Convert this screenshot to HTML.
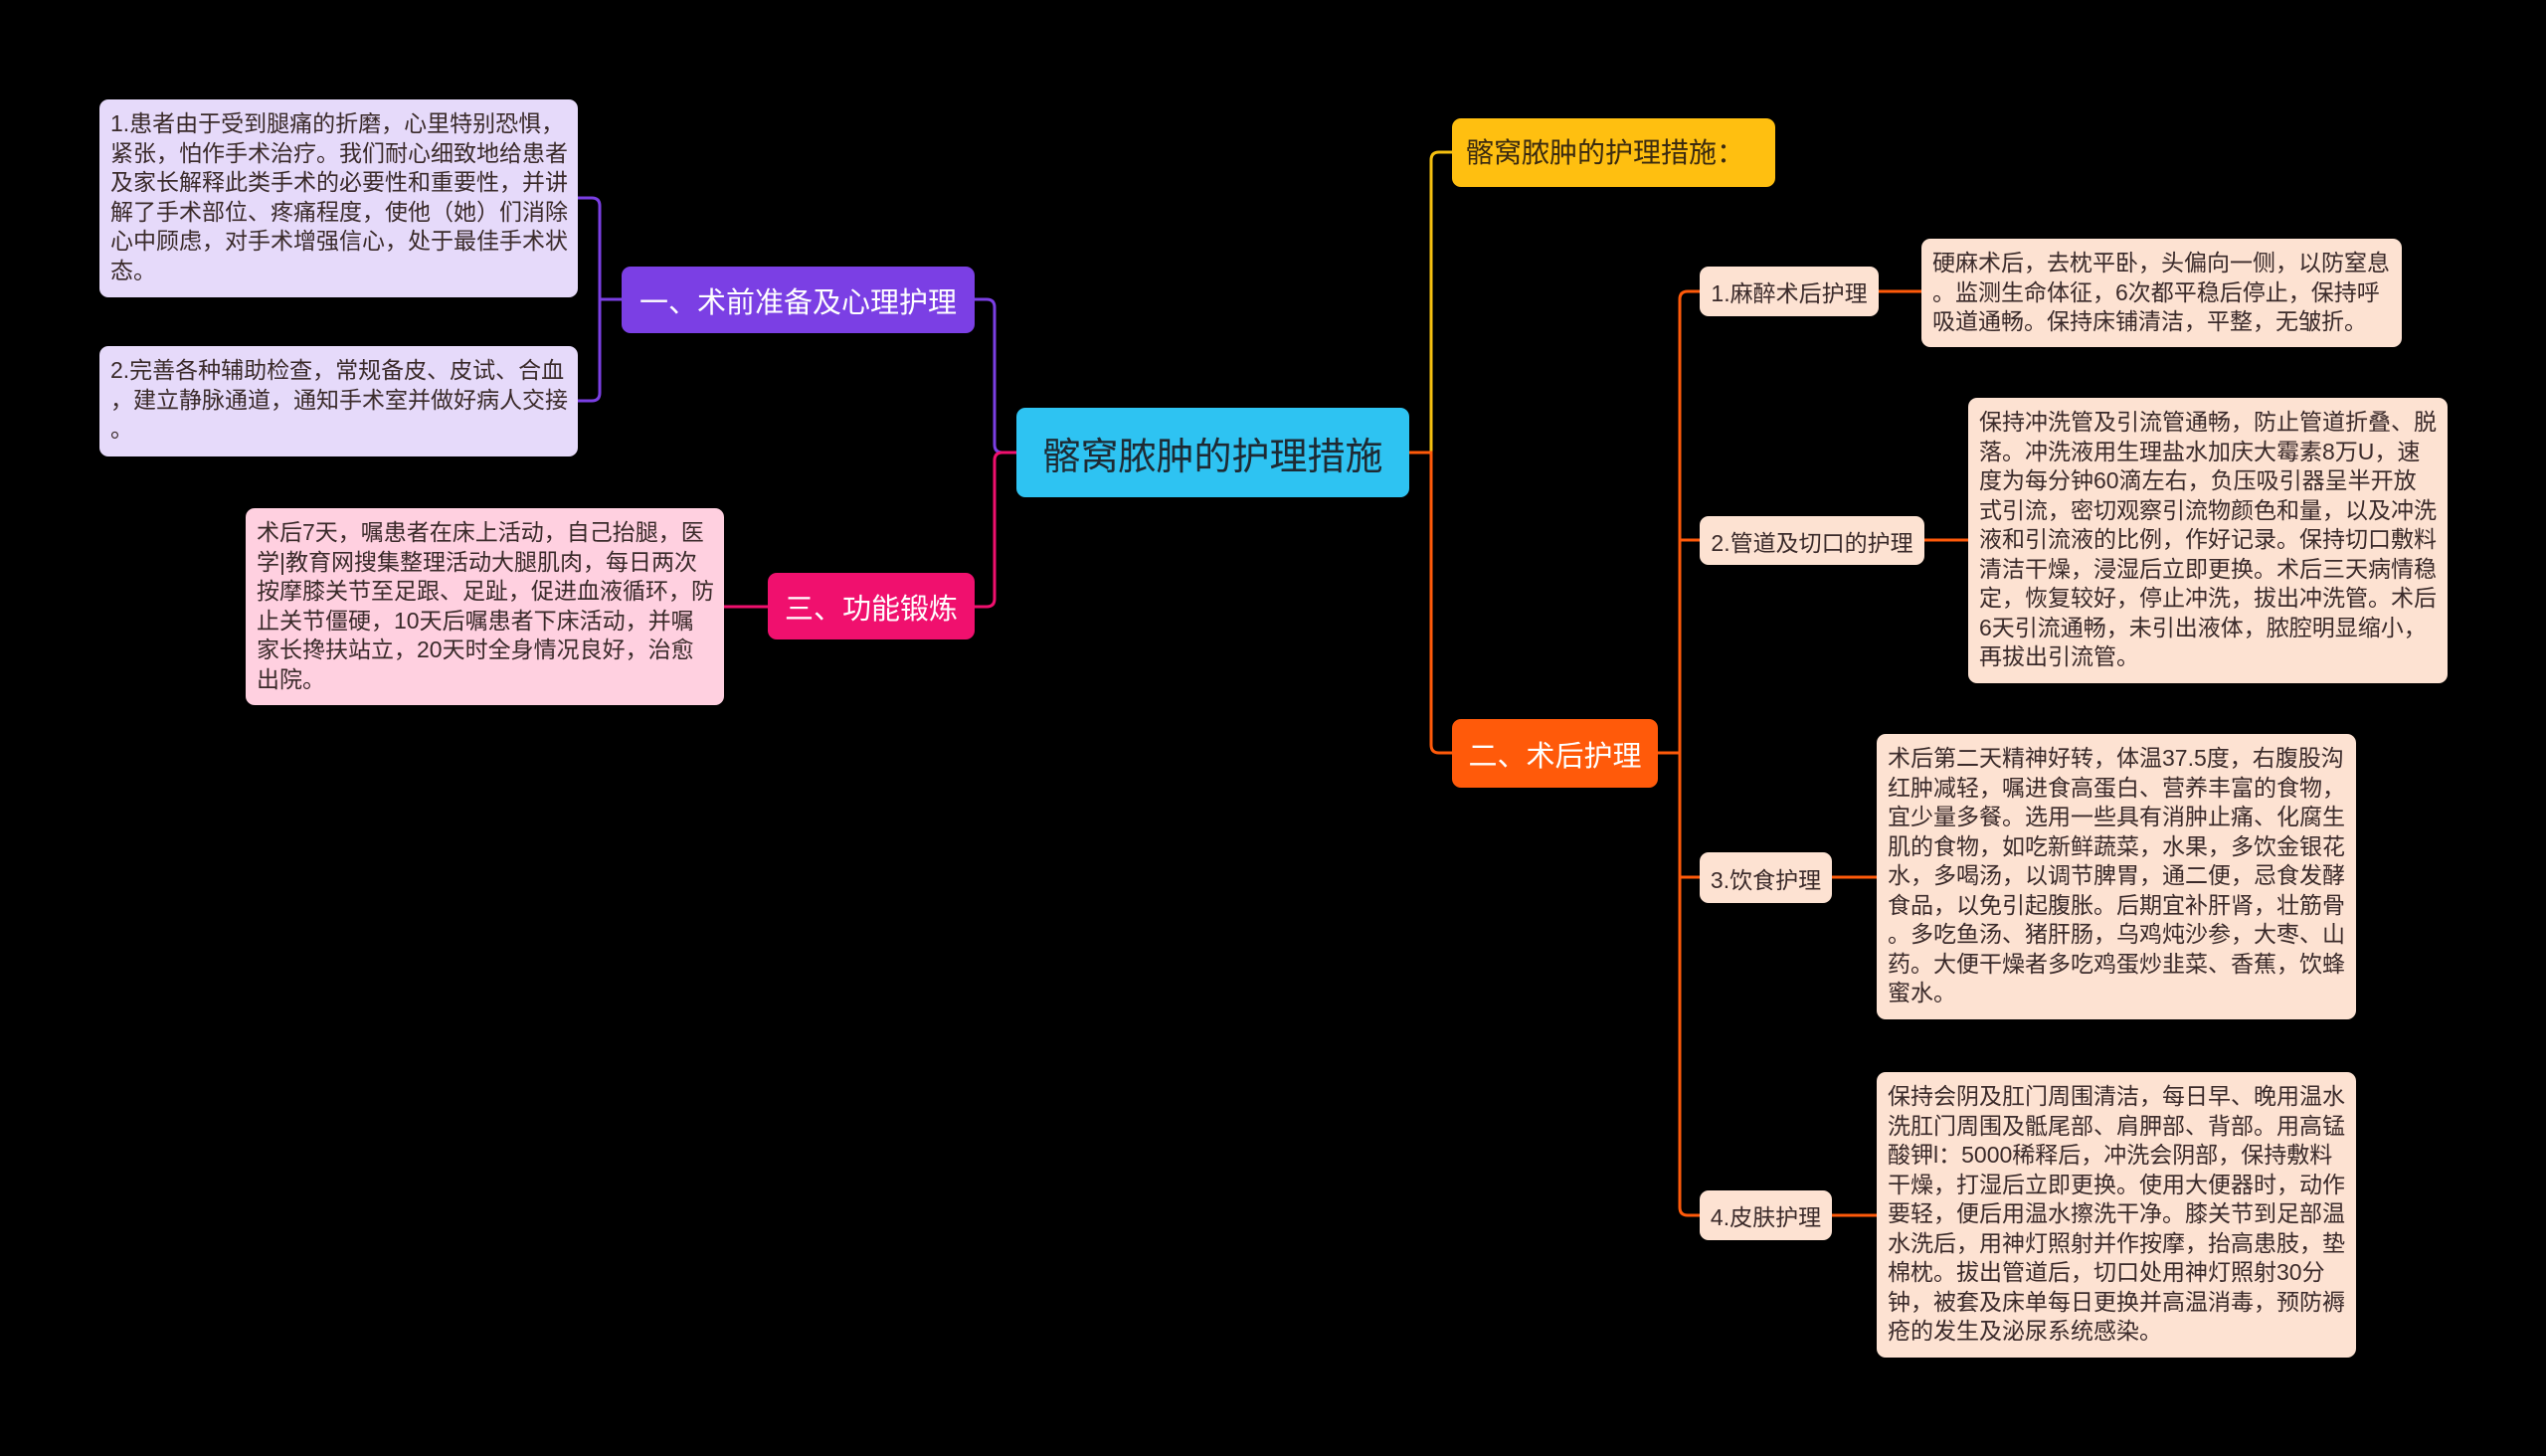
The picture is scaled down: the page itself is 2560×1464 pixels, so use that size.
<!DOCTYPE html>
<html><head><meta charset="utf-8"><style>
html,body{margin:0;padding:0;background:#000;}
body{width:2560px;height:1464px;position:relative;overflow:hidden;font-family:"Liberation Sans","Noto Sans CJK SC",sans-serif;}
.n{position:absolute;box-sizing:border-box;border-radius:9px;white-space:nowrap;}
.t{font-size:23px;line-height:29.5px;color:#3a2a2a;padding:10px 11px;}
.c{display:flex;align-items:center;justify-content:center;}
svg{position:absolute;left:0;top:0;}
</style></head><body>
<svg width="2560" height="1464" fill="none" stroke-width="3">
<!-- left -->
<path d="M1022 455 H1008 Q1000 455 1000 447 V309 Q1000 301 992 301 H980" stroke="#7b3fe4"/>
<path d="M1022 455 H1008 Q1000 455 1000 463 V602 Q1000 610 992 610 H980" stroke="#f0106e"/>
<path d="M625 301 H603" stroke="#7b3fe4"/>
<path d="M581 199 H595 Q603 199 603 207 V395 Q603 403 595 403 H581" stroke="#7b3fe4"/>
<path d="M772 610 H728" stroke="#f0106e"/>
<!-- right -->
<path d="M1417 455 H1439 V161 Q1439 153 1447 153 H1460" stroke="#f5c010"/>
<path d="M1417 455 H1439 V749 Q1439 757 1447 757 H1460" stroke="#ff5a0a"/>
<path d="M1667 757 H1689" stroke="#ff5a0a"/>
<path d="M1709 293 H1697 Q1689 293 1689 301 V1214 Q1689 1222 1697 1222 H1709" stroke="#ff5a0a"/>
<path d="M1689 543 H1709 M1689 882 H1709" stroke="#ff5a0a"/>
<path d="M1889 293 H1932 M1935 543 H1979 M1842 882 H1887 M1842 1222 H1887" stroke="#ff5a0a"/>
</svg>

<div class="n t" style="left:100px;top:100px;width:481px;height:199px;background:#e6dafa;">1.患者由于受到腿痛的折磨，心里特别恐惧，<br>紧张，怕作手术治疗。我们耐心细致地给患者<br>及家长解释此类手术的必要性和重要性，并讲<br>解了手术部位、疼痛程度，使他（她）们消除<br>心中顾虑，对手术增强信心，处于最佳手术状<br>态。</div>
<div class="n t" style="left:100px;top:348px;width:481px;height:111px;background:#e6dafa;">2.完善各种辅助检查，常规备皮、皮试、合血<br>，建立静脉通道，通知手术室并做好病人交接<br>。</div>
<div class="n c" style="left:625px;top:268px;width:355px;height:67px;background:#7b3fe4;color:#fff;font-size:29px;">一、术前准备及心理护理</div>
<div class="n c" style="left:772px;top:576px;width:208px;height:67px;background:#f0106e;color:#fff;font-size:29px;">三、功能锻炼</div>
<div class="n t" style="left:247px;top:511px;width:481px;height:198px;background:#ffd0e0;">术后7天，嘱患者在床上活动，自己抬腿，医<br>学|教育网搜集整理活动大腿肌肉，每日两次<br>按摩膝关节至足跟、足趾，促进血液循环，防<br>止关节僵硬，10天后嘱患者下床活动，并嘱<br>家长搀扶站立，20天时全身情况良好，治愈<br>出院。</div>

<div class="n c" style="left:1022px;top:410px;width:395px;height:90px;background:#2ec3f2;color:#1e2a33;font-size:38px;">髂窝脓肿的护理措施</div>
<div class="n" style="left:1460px;top:119px;width:325px;height:69px;background:#ffbf10;color:#3a2a10;font-size:28px;line-height:69px;padding-left:14px;">髂窝脓肿的护理措施：</div>
<div class="n c" style="left:1460px;top:723px;width:207px;height:69px;background:#ff5a0a;color:#fff;font-size:29px;">二、术后护理</div>

<div class="n c" style="left:1709px;top:268px;width:180px;height:50px;background:#fde2d2;color:#3a2a2a;font-size:23px;">1.麻醉术后护理</div>
<div class="n c" style="left:1709px;top:519px;width:226px;height:49px;background:#fde2d2;color:#3a2a2a;font-size:23px;">2.管道及切口的护理</div>
<div class="n c" style="left:1709px;top:857px;width:133px;height:51px;background:#fde2d2;color:#3a2a2a;font-size:23px;">3.饮食护理</div>
<div class="n c" style="left:1709px;top:1197px;width:133px;height:50px;background:#fde2d2;color:#3a2a2a;font-size:23px;">4.皮肤护理</div>

<div class="n t" style="left:1932px;top:240px;width:483px;height:109px;background:#fde2d2;">硬麻术后，去枕平卧，头偏向一侧，以防窒息<br>。监测生命体征，6次都平稳后停止，保持呼<br>吸道通畅。保持床铺清洁，平整，无皱折。</div>
<div class="n t" style="left:1979px;top:400px;width:482px;height:287px;background:#fde2d2;">保持冲洗管及引流管通畅，防止管道折叠、脱<br>落。冲洗液用生理盐水加庆大霉素8万U，速<br>度为每分钟60滴左右，负压吸引器呈半开放<br>式引流，密切观察引流物颜色和量，以及冲洗<br>液和引流液的比例，作好记录。保持切口敷料<br>清洁干燥，浸湿后立即更换。术后三天病情稳<br>定，恢复较好，停止冲洗，拔出冲洗管。术后<br>6天引流通畅，未引出液体，脓腔明显缩小，<br>再拔出引流管。</div>
<div class="n t" style="left:1887px;top:738px;width:482px;height:287px;background:#fde2d2;">术后第二天精神好转，体温37.5度，右腹股沟<br>红肿减轻，嘱进食高蛋白、营养丰富的食物，<br>宜少量多餐。选用一些具有消肿止痛、化腐生<br>肌的食物，如吃新鲜蔬菜，水果，多饮金银花<br>水，多喝汤，以调节脾胃，通二便，忌食发酵<br>食品，以免引起腹胀。后期宜补肝肾，壮筋骨<br>。多吃鱼汤、猪肝肠，乌鸡炖沙参，大枣、山<br>药。大便干燥者多吃鸡蛋炒韭菜、香蕉，饮蜂<br>蜜水。</div>
<div class="n t" style="left:1887px;top:1078px;width:482px;height:287px;background:#fde2d2;">保持会阴及肛门周围清洁，每日早、晚用温水<br>洗肛门周围及骶尾部、肩胛部、背部。用高锰<br>酸钾l：5000稀释后，冲洗会阴部，保持敷料<br>干燥，打湿后立即更换。使用大便器时，动作<br>要轻，便后用温水擦洗干净。膝关节到足部温<br>水洗后，用神灯照射并作按摩，抬高患肢，垫<br>棉枕。拔出管道后，切口处用神灯照射30分<br>钟，被套及床单每日更换并高温消毒，预防褥<br>疮的发生及泌尿系统感染。</div>
</body></html>
